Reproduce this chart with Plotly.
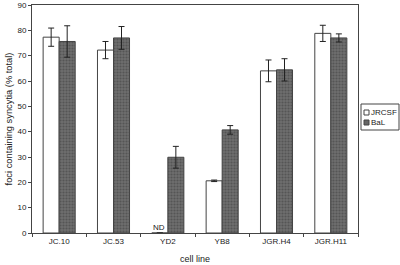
import plotly.graph_objects as go

categories = ["JC.10", "JC.53", "YD2", "YB8", "JGR.H4", "JGR.H11"]
jrcsf = [77.3, 72.2, 0, 20.6, 64.0, 78.8]
jrcsf_err = [3.6, 3.4, 0, 0.3, 4.3, 3.2]
bal = [75.6, 77.0, 29.9, 40.7, 64.4, 77.0]
bal_err = [6.2, 4.5, 4.3, 1.7, 4.4, 1.6]
y_ticks = [0, 10, 20, 30, 40, 50, 60, 70, 80, 90]
series_names = ["JRCSF", "BaL"]

FONT = "Liberation Sans, Arial"
TXT = "#222"
L, R, T, B, W, H = 32, 42, 5, 32, 400, 265
PW, PH = W - L - R, H - T - B

def px(x):
    return (x - L) / PW

def py(y):
    return (H - B - y) / PH

fig = go.Figure()
fig.add_trace(go.Bar(
    name=series_names[0], x=categories, y=jrcsf,
    marker=dict(color="white", line=dict(color="#444", width=1)),
    error_y=dict(type="data", array=jrcsf_err, visible=True, color="#222", thickness=1, width=3),
))
fig.add_trace(go.Bar(
    name=series_names[1], x=categories, y=bal,
    marker=dict(color="#666666", line=dict(color="#444", width=1),
                pattern=dict(shape=".", fgcolor="#555555", bgcolor="#6e6e6e", size=3, solidity=0.4)),
    error_y=dict(type="data", array=bal_err, visible=True, color="#222", thickness=1, width=3),
))

fig.add_annotation(x="YD2", y=0, text="ND", showarrow=False, yanchor="bottom",
                   xshift=-9, yshift=-1, font=dict(family=FONT, size=8, color=TXT))

# legend box (drawn manually to match compact style)
fig.add_shape(type="rect", xref="paper", yref="paper",
              x0=px(361), x1=px(399), y0=py(130), y1=py(104),
              line=dict(color="#444", width=1), fillcolor="white")
fig.add_shape(type="rect", xref="paper", yref="paper",
              x0=px(364), x1=px(369), y0=py(115), y1=py(110),
              line=dict(color="#444", width=1), fillcolor="white")
fig.add_shape(type="rect", xref="paper", yref="paper",
              x0=px(364), x1=px(369), y0=py(125), y1=py(120),
              line=dict(color="#444", width=1), fillcolor="#666666")
for name, yc in zip(series_names, [112.5, 122.5]):
    fig.add_annotation(xref="paper", yref="paper", x=px(369.5), y=py(yc), text=name,
                       showarrow=False, xanchor="left", yanchor="middle",
                       font=dict(family=FONT, size=8, color=TXT))

fig.update_layout(
    template="none",
    width=W, height=H,
    margin=dict(l=L, r=R, t=T, b=B, autoexpand=False),
    paper_bgcolor="white", plot_bgcolor="white",
    barmode="group", bargap=0.41, bargroupgap=0,
    font=dict(family=FONT, size=8, color=TXT),
    showlegend=False,
    xaxis=dict(showline=True, linecolor="#444", linewidth=1, mirror=True,
               ticks="outside", ticklen=3, tickson="boundaries", tickcolor="#444",
               showgrid=False, automargin=False, tickfont=dict(size=8, color=TXT),
               title=dict(text="cell line", font=dict(size=9, color=TXT), standoff=11)),
    yaxis=dict(range=[0, 90], tickvals=y_ticks, showline=True, linecolor="#444", linewidth=1,
               mirror=True, ticks="outside", ticklen=3, tickcolor="#444", showgrid=False,
               zeroline=False, automargin=False, tickfont=dict(size=8, color=TXT),
               title=dict(text="foci containing syncytia (% total)", font=dict(size=9.3, color=TXT), standoff=3)),
)

fig.write_html("out.html", config={"displayModeBar": False},
               post_script="document.body.style.margin='0';")
